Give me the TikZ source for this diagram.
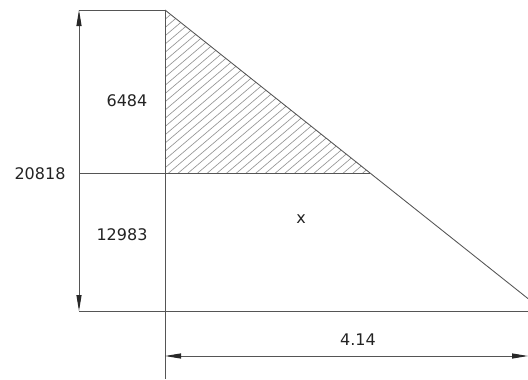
\documentclass[tikz,border=0pt]{standalone}
\usepackage{fontspec}
\setmainfont{DejaVu Sans}
\usetikzlibrary{arrows.meta,calc}
\definecolor{linec}{RGB}{85,85,85}
\definecolor{hatchc}{RGB}{150,150,150}
\definecolor{textc}{RGB}{35,35,35}
\definecolor{tipc}{RGB}{40,40,40}
\begin{document}
\begin{tikzpicture}[x=0.75pt,y=-0.75pt,
  mainline/.style={draw=linec,line width=0.65pt},
  hatchline/.style={draw=hatchc,line width=0.5pt},
  dimline/.style={draw=linec,line width=0.65pt,
    {Triangle[length=12pt,width=3.8pt,color=tipc]}-{Triangle[length=12pt,width=3.8pt,color=tipc]}},
  lbl/.style={text=textc,font=\fontsize{12}{14}\selectfont,inner sep=0pt}]
\useasboundingbox (0,0) rectangle (528,379);
% key points
\coordinate (T) at (165,10);
\coordinate (TL) at (79,10);
\coordinate (ML) at (79,173);
\coordinate (MA) at (165,173);
\coordinate (MR) at (370,173);
\coordinate (BL) at (79,311);
\coordinate (BR) at (528,311);
\coordinate (D) at (528,298.6);
\coordinate (VB) at (165,379);
\coordinate (HL) at (165,356);
\coordinate (HR) at (528,356);
% hatching
\begin{scope}
  \clip (T) -- (MR) -- (MA) -- cycle;
  \foreach \k in {-22,...,21}{
    \pgfmathsetmacro\c{324.6+8.25*\k}
    \draw[hatchline] (160,{\c-0.85*160}) -- (380,{\c-0.85*380});
  }
\end{scope}
% main lines
\draw[mainline] (TL) -- (T);
\draw[mainline] (T) -- (VB);
\draw[mainline] (ML) -- (MR);
\draw[mainline] (BL) -- (BR);
\draw[mainline] (T) -- (D);
% dimensions
\draw[dimline] (TL) -- (BL);
\draw[dimline] (HL) -- (HR);
% labels
\node[lbl] (a) at (127,100.5) {6484};
\node[lbl] (b) at (40,174) {20818};
\node[lbl] (c) at (122,235) {12983};
\node[lbl] (x) at (301,219) {x};
\node[lbl] (d) at (358,340) {4.14};
\end{tikzpicture}
\end{document}
